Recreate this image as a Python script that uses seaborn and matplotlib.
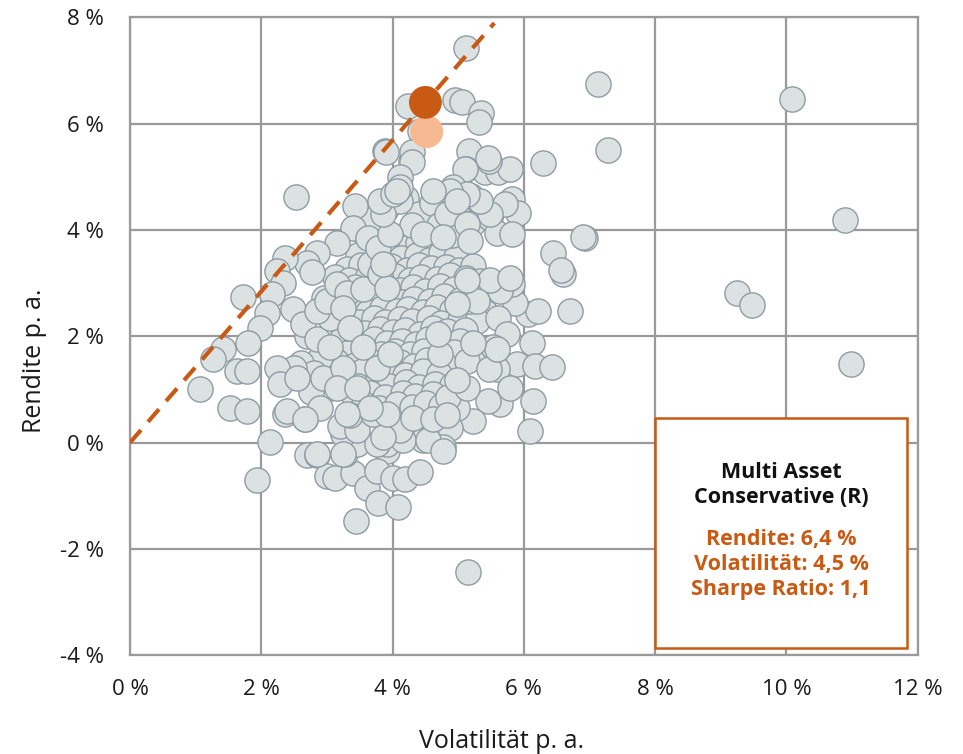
import matplotlib.pyplot as plt
import seaborn as sns
import pandas as pd

# peer group funds: volatility p.a. and return p.a. (in %)
# dense core first, outer points after so they sit on top
core_vol = [
    3.90, 4.12, 4.28, 4.52, 4.68,
    3.72, 3.93, 4.21, 4.38, 4.63, 4.84, 5.07,
    3.48, 3.77, 3.96, 4.13, 4.37, 4.56, 4.73, 4.97,
    3.31, 3.52, 3.78, 3.98, 4.22, 4.41, 4.58, 4.82, 5.01, 5.22,
    3.12, 3.33, 3.62, 3.81, 4.03, 4.27, 4.44, 4.67, 4.88, 5.12, 5.33,
    3.22, 3.43, 3.71, 3.88, 4.12, 4.31, 4.49, 4.72, 4.93, 5.21,
    2.96, 3.24, 3.52, 3.74, 3.97, 4.16, 4.33, 4.57, 4.79, 5.02, 5.36,
    3.11, 3.38, 3.62, 3.84, 4.06, 4.23, 4.47, 4.68, 4.91, 5.14, 5.41,
    3.26, 3.49, 3.72, 3.89, 4.12, 4.29, 4.56, 4.74, 5.02, 5.28,
    3.08, 3.36, 3.58, 3.81, 4.01, 4.19, 4.42, 4.61, 4.83, 5.11,
    3.21, 3.44, 3.71, 3.92, 4.14, 4.36, 4.54, 4.81, 5.02,
    3.31, 3.58, 3.82, 4.04, 4.26, 4.48, 4.76, 4.94,
    3.14, 3.42, 3.66, 3.88, 4.11, 4.32, 4.53, 4.79,
    3.31, 3.54, 3.81, 4.02, 4.19, 4.46, 4.71,
    3.21, 3.48, 3.76, 3.94, 4.21, 4.41, 4.64, 4.91,
    3.41, 3.66, 3.89, 4.16, 4.34, 4.61,
    3.56, 3.79, 4.06, 4.29, 4.51, 4.74,
    2.70, 2.90, 2.60, 2.80, 3.00, 2.75, 2.50,
    3.50, 3.70, 3.90, 4.20, 4.40, 4.30, 4.60, 4.70, 4.90,
]
core_ret = [
    3.92, 3.84, 3.95, 3.88, 3.97,
    3.68, 3.74, 3.66, 3.76, 3.71, 3.64, 3.73,
    3.53, 3.46, 3.55, 3.48, 3.52, 3.44, 3.56, 3.49,
    3.27, 3.34, 3.26, 3.32, 3.25, 3.35, 3.28, 3.31, 3.24, 3.33,
    3.12, 3.06, 3.14, 3.08, 3.13, 3.05, 3.11, 3.07, 3.15, 3.09, 3.04,
    2.88, 2.93, 2.86, 2.94, 2.87, 2.92, 2.85, 2.95, 2.89, 2.91,
    2.72, 2.66, 2.74, 2.68, 2.73, 2.65, 2.71, 2.67, 2.75, 2.69, 2.72,
    2.48, 2.54, 2.46, 2.53, 2.47, 2.52, 2.45, 2.55, 2.49, 2.51, 2.46,
    2.33, 2.27, 2.34, 2.26, 2.32, 2.28, 2.35, 2.25, 2.31, 2.29,
    2.07, 2.13, 2.06, 2.14, 2.08, 2.12, 2.05, 2.15, 2.09, 2.11,
    1.93, 1.86, 1.94, 1.87, 1.92, 1.85, 1.95, 1.88, 1.91,
    1.68, 1.74, 1.66, 1.73, 1.67, 1.72, 1.65, 1.71,
    1.53, 1.46, 1.54, 1.47, 1.52, 1.45, 1.55, 1.48,
    1.27, 1.34, 1.26, 1.33, 1.28, 1.35, 1.29,
    1.12, 1.06, 1.13, 1.07, 1.14, 1.05, 1.11, 1.08,
    0.87, 0.94, 0.86, 0.93, 0.88, 0.92,
    0.72, 0.66, 0.73, 0.67, 0.74, 0.68,
    2.00, 1.60, 1.50, 1.30, 1.00, 0.95, 1.40,
    4.00, 4.20, 4.40, 4.60, 4.30, 4.10, 4.50, 4.10, 3.90,
]
outer_vol = [
    5.12, 7.13, 10.08, 7.28, 6.29, 10.89, 2.53, 3.88, 4.28,
    4.24, 4.95, 5.06, 5.35, 5.31, 4.42, 3.90, 4.29, 4.29, 5.16, 5.12, 5.41, 5.60, 5.79, 5.47, 4.11,
    5.45, 5.10, 4.92, 5.20, 5.33, 5.82, 5.91, 4.98, 5.22, 5.48, 5.59, 5.82, 6.44, 6.59, 6.57, 6.93,
    6.90, 6.70, 6.06, 6.21, 5.86, 5.60, 5.82, 5.63, 5.18, 5.74, 6.12, 5.89, 6.17, 6.43, 5.59, 5.33,
    5.13, 5.53, 6.14, 5.63, 5.79, 5.45, 5.22, 6.09, 4.98, 4.87,
    5.47, 5.59, 4.72, 4.69, 5.22, 4.84, 4.77, 4.46, 5.13, 4.98, 5.48, 5.28, 4.98, 5.79, 5.13,
    5.71, 5.48, 5.33, 5.13, 4.87, 4.61, 4.83, 5.13, 4.46, 4.77, 5.18, 4.11, 4.11, 4.98,
    1.52, 1.78, 2.13, 1.93, 2.36, 2.66, 2.70, 2.85, 3.00, 3.12, 3.40, 3.27, 3.46, 3.61, 3.78,
    3.44, 4.08, 3.91, 3.91, 3.76, 4.16, 3.76, 4.00, 4.19, 4.42, 4.54, 4.77, 5.15, 3.24, 3.20,
    3.46, 4.11, 3.85, 3.35, 3.70, 3.91, 4.31, 4.61, 4.83, 2.89,
    3.43, 3.40, 3.62, 3.15, 2.85, 2.70, 2.77, 2.36, 2.24, 2.33, 2.16, 1.72, 2.09, 1.98, 1.80,
    1.42, 1.26, 1.63, 1.78, 1.07, 2.48, 2.63, 2.85, 2.24, 2.28, 2.54, 2.39, 2.66, 2.94, 3.24,
    3.05, 3.05, 2.85, 3.00, 3.15, 3.30, 3.55, 3.65, 3.78, 3.96, 3.85, 3.81, 4.00, 4.07, 3.81,
    3.91, 3.85, 3.24, 3.35, 3.55, 3.76, 3.96, 3.15, 3.46, 3.65, 3.30, 2.85, 3.24,
    9.24, 9.48, 10.98,
]
outer_ret = [
    7.42, 6.75, 6.47, 5.51, 5.26, 4.19, 4.62, 5.49, 5.30,
    6.34, 6.45, 6.40, 6.20, 6.03, 5.86, 5.47, 5.47, 5.27, 5.49, 5.15, 5.09, 5.09, 5.15, 5.30, 5.00,
    5.36, 5.15, 4.80, 4.64, 4.49, 4.59, 4.32, 4.32, 4.13, 4.23, 3.95, 3.93, 3.57, 3.18, 3.25, 3.85,
    3.87, 2.48, 2.42, 2.48, 2.63, 2.35, 2.99, 2.86, 2.67, 2.05, 1.88, 1.48, 1.45, 1.43, 1.39, 1.73,
    1.54, 1.79, 0.79, 0.73, 1.02, 0.79, 0.41, 0.21, 0.66, 0.28,
    1.39, 1.77, 1.67, 2.05, 1.88, 0.85, -0.09, 0.04, 1.03, 1.17, 3.05, 2.67, 2.61, 3.10, 3.05,
    4.49, 4.30, 4.55, 4.68, 4.74, 4.74, 4.30, 4.12, 3.93, 3.87, 3.80, 4.55, 4.80, 4.55,
    0.66, 0.60, 0.02, -0.71, 0.54, 0.45, -0.24, -0.24, -0.62, -0.66, -0.58, -0.21, -0.02, -0.85, -1.13,
    -1.47, -1.22, -0.15, -0.02, -0.02, 0.04, -0.53, -0.66, -0.68, -0.56, 0.04, -0.15, -2.44, 0.17, 0.32,
    0.23, 0.23, 0.10, 0.51, 0.54, 0.54, 0.47, 0.45, 0.51, 0.66,
    4.46, 4.04, 3.85, 3.76, 3.57, 3.38, 3.20, 3.48, 3.23, 3.01, 2.80, 2.73, 2.44, 2.16, 1.88,
    1.77, 1.58, 1.35, 1.35, 1.01, 2.52, 2.24, 1.95, 1.41, 1.11, 1.22, 0.60, 0.45, 1.22, 1.41,
    1.79, 2.35, 2.48, 2.67, 2.99, 2.82, 2.89, 3.36, 3.67, 3.93, 4.30, 4.55, 4.68, 4.74, 3.18,
    2.91, 3.36, 2.54, 2.16, 1.79, 1.41, 1.67, 1.03, 1.03, 0.66, 0.54, -0.21, -0.21,
    2.82, 2.58, 1.47,
]

# highlighted funds
fund_vol = 4.5
fund_ret = 6.4
fund_sharpe = "1,1"
other_class_vol = 4.52
other_class_ret = 5.85

line_end_vol = 5.55

x_ticks = [0, 2, 4, 6, 8, 10, 12]
y_ticks = [-4, -2, 0, 2, 4, 6, 8]

grey_fill = "#dce1e2"
grey_edge = "#8e9ca4"
orange = "#c85a14"
light_orange = "#f6b992"
grid_grey = "#9a9a9a"

sns.set_style("white")
plt.rcParams["font.family"] = ["Open Sans", "DejaVu Sans"]

fig = plt.figure(figsize=(9.63, 7.54), dpi=100)
ax = fig.add_axes([0.135, 0.131, 0.818, 0.846])

peers = pd.DataFrame({"vol": core_vol + outer_vol, "ret": core_ret + outer_ret})
sns.scatterplot(data=peers, x="vol", y="ret", ax=ax, s=330,
                color=grey_fill, edgecolor=grey_edge, linewidth=1.0, zorder=3)

# line from the origin through the fund
line = pd.DataFrame({"vol": [0, line_end_vol]})
line["ret"] = line["vol"] * fund_ret / fund_vol
sns.lineplot(data=line, x="vol", y="ret", ax=ax, color=orange, lw=3,
             dashes=False, zorder=4)
ax.lines[-1].set_dashes([4, 2.6])

sns.scatterplot(x=[other_class_vol], y=[other_class_ret], ax=ax, s=560,
                color=light_orange, edgecolor="none", zorder=5)
sns.scatterplot(x=[fund_vol], y=[fund_ret], ax=ax, s=560,
                color=orange, edgecolor="none", zorder=6)

ax.set_xlim(0, 12)
ax.set_ylim(-4, 8)
ax.set_xticks(x_ticks)
ax.set_yticks(y_ticks)
ax.set_xticklabels([f"{t} %" for t in x_ticks], fontsize=16, color="#1a1a1a")
ax.set_yticklabels([f"{t} %" for t in y_ticks], fontsize=16, color="#1a1a1a")
ax.tick_params(axis="x", length=0, pad=17)
ax.tick_params(axis="y", length=0, pad=19)
ax.grid(True, color=grid_grey, lw=1.6, zorder=0)
ax.set_axisbelow(True)
for sp in ax.spines.values():
    sp.set_color(grid_grey)
    sp.set_linewidth(1.6)

ax.set_xlabel("Volatilität p. a.", fontsize=18, color="#1a1a1a")
ax.set_ylabel("Rendite p. a.", fontsize=18, color="#1a1a1a")
ax.xaxis.set_label_coords(0.472, -0.115)
ax.yaxis.set_label_coords(-0.106, 0.462)

# info box
box = plt.Rectangle((7.99, -3.87), 3.85, 4.34, facecolor="white",
                    edgecolor=orange, lw=1.8, zorder=7)
ax.add_patch(box)
ax.text(9.92, -0.79, "Multi Asset\nConservative (R)", ha="center", va="center",
        fontsize=15.5, fontweight="bold", color="#111111", linespacing=1.25, zorder=8)
ax.text(9.92, -2.29,
        f"Rendite: {fund_ret:.1f} %\nVolatilität: {fund_vol:.1f} %\nSharpe Ratio: {fund_sharpe}".replace(".", ","),
        ha="center", va="center", fontsize=15.5, fontweight="bold", color=orange,
        linespacing=1.25, zorder=8)

fig.savefig("out.png", dpi=100)
